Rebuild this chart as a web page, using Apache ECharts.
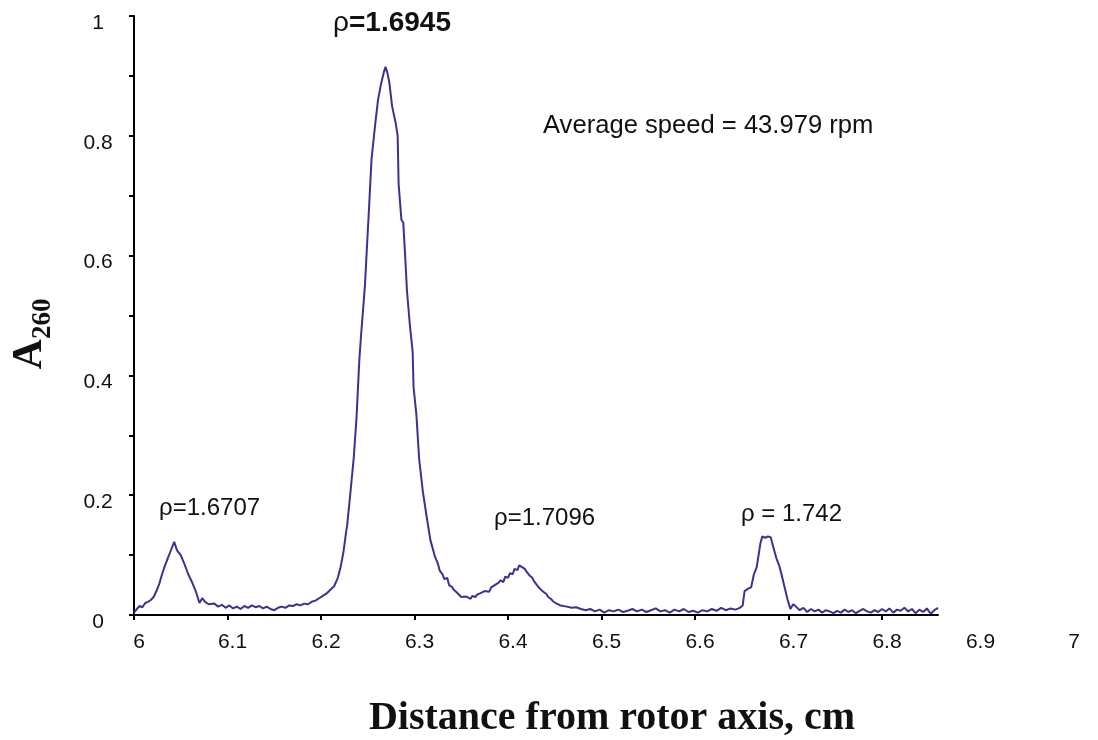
<!DOCTYPE html>
<html><head><meta charset="utf-8">
<script src="https://cdn.jsdelivr.net/npm/echarts@6/dist/echarts.min.js"></script>
<style>html,body{margin:0;padding:0;background:#fff}#c{width:1098px;height:740px}</style>
</head><body><div id="c"></div>
<script>
// Distance from rotor axis (cm)
const distance = [
6.000,6.003,6.006,6.009,6.012,6.015,6.018,6.021,6.024,6.027,6.030,6.033,6.036,6.039,6.043,6.046,6.050,6.054,6.058,6.062,6.066,6.070,6.073,6.076,6.080,
6.082,6.086,6.090,6.094,6.098,6.102,6.106,6.110,6.114,6.118,6.122,6.126,6.130,6.134,6.138,6.142,6.146,6.150,6.154,6.158,6.162,6.166,6.170,6.174,6.178,6.182,6.186,6.190,6.194,6.198,
6.202,6.206,6.210,6.214,6.218,6.221,6.224,6.227,6.228,6.231,6.235,6.238,6.241,6.243,6.247,6.250,6.251,6.254,6.256,6.258,6.261,6.264,6.267,6.269,6.271,6.273,6.276,6.280,6.282,6.283,6.286,6.288,6.290,6.292,6.295,6.298,6.299,6.302,6.305,6.309,6.313,6.317,6.322,6.325,6.327,6.330,6.332,6.335,6.337,6.340,6.342,6.345,6.347,6.350,6.352,6.355,6.357,6.360,6.362,6.365,6.367,6.370,6.372,6.375,6.377,6.380,6.382,6.385,6.387,6.390,6.392,6.395,6.397,6.400,6.402,6.405,6.407,6.410,6.412,6.415,6.418,6.420,6.423,6.426,6.428,6.431,6.433,6.436,6.438,6.441,6.443,6.446,6.448,6.451,6.453,6.456,6.458,6.463,
6.468,6.473,6.478,6.483,6.488,6.493,6.498,6.503,6.508,6.513,6.518,6.523,6.528,6.533,6.538,6.543,6.548,6.553,6.558,6.563,6.568,6.573,6.578,6.583,6.588,6.593,6.598,6.603,6.608,6.613,6.618,6.623,6.628,6.633,6.638,6.643,
6.648,6.651,6.653,6.657,6.660,6.663,6.666,6.668,6.670,6.672,6.675,6.678,6.681,6.684,6.687,6.690,6.693,6.696,6.699,6.702,6.705,6.708,
6.712,6.716,6.720,6.724,6.728,6.732,6.736,6.740,6.744,6.748,6.752,6.756,6.760,6.764,6.768,6.772,6.776,6.780,6.784,6.788,6.792,6.796,6.800,6.804,6.808,6.812,6.816,6.820,6.824,6.828,6.832,6.836,6.840,6.844,6.848,6.852,6.856,6.860
];
// A260 absorbance
const a260 = [
0.004,0.010,0.015,0.013,0.020,0.022,0.025,0.030,0.040,0.052,0.068,0.082,0.094,0.106,0.122,0.108,0.100,0.085,0.068,0.055,0.040,0.020,0.028,0.022,0.018,
0.016,0.019,0.014,0.017,0.012,0.016,0.011,0.014,0.010,0.015,0.012,0.016,0.013,0.015,0.011,0.014,0.010,0.008,0.012,0.014,0.012,0.016,0.015,0.018,0.016,0.019,0.018,0.022,0.024,0.028,
0.032,0.036,0.042,0.048,0.062,0.080,0.105,0.140,0.150,0.197,0.262,0.330,0.426,0.470,0.550,0.640,0.668,0.760,0.762,0.820,0.860,0.885,0.905,0.915,0.905,0.890,0.850,0.820,0.800,0.720,0.660,0.655,0.600,0.540,0.485,0.440,0.380,0.335,0.260,0.205,0.164,0.125,0.097,0.086,0.074,0.068,0.060,0.062,0.050,0.047,0.042,0.038,0.035,0.030,0.028,0.031,0.030,0.027,0.032,0.030,0.034,0.036,0.037,0.040,0.042,0.039,0.046,0.049,0.050,0.054,0.058,0.055,0.064,0.062,0.070,0.068,0.077,0.075,0.083,0.080,0.077,0.072,0.066,0.062,0.056,0.050,0.046,0.041,0.038,0.035,0.030,0.027,0.023,0.020,0.018,0.016,0.015,0.014,
0.012,0.013,0.010,0.008,0.010,0.006,0.009,0.004,0.008,0.006,0.009,0.005,0.007,0.010,0.006,0.009,0.005,0.008,0.011,0.006,0.008,0.004,0.009,0.006,0.010,0.005,0.007,0.004,0.008,0.006,0.010,0.007,0.012,0.008,0.011,0.009,
0.012,0.016,0.040,0.044,0.046,0.068,0.080,0.100,0.120,0.131,0.129,0.131,0.130,0.112,0.095,0.083,0.065,0.045,0.026,0.010,0.018,0.014,
0.008,0.012,0.005,0.010,0.006,0.009,0.004,0.008,0.006,0.003,0.007,0.004,0.009,0.005,0.008,0.003,0.007,0.010,0.006,0.004,0.008,0.005,0.010,0.006,0.011,0.004,0.009,0.007,0.012,0.006,0.010,0.003,0.009,0.005,0.011,0.002,0.008,0.012
];
const xTickValues = [6, 6.1, 6.2, 6.3, 6.4, 6.5, 6.6, 6.7, 6.8];
const xLabelValues = [6, 6.1, 6.2, 6.3, 6.4, 6.5, 6.6, 6.7, 6.8, 6.9, 7];
const yTickValues = [0, 0.1, 0.2, 0.3, 0.4, 0.5, 0.6, 0.7, 0.8, 0.9, 1];
const yLabelValues = [0, 0.2, 0.4, 0.6, 0.8, 1];
const peakLabels = ['ρ=1.6707', 'ρ=1.7096', 'ρ = 1.742'];
const mainPeakDensity = '1.6945';
const speedText = 'Average speed = 43.979 rpm';
const xTitle = 'Distance from rotor axis, cm';

const chart = echarts.init(document.getElementById('c'), null, {renderer: 'canvas'});
const sans = 'Liberation Sans, Arial, sans-serif';
const serif = 'Liberation Serif, Times New Roman, serif';
const axisStyle = {color: '#000', width: 2};
chart.setOption({
  animation: false,
  backgroundColor: '#fff',
  grid: [
    {left: 134, right: 29, top: 16, bottom: 125},
    {left: 134, width: 804, top: 16, bottom: 125}
  ],
  xAxis: [
    {gridIndex: 0, type: 'value', min: 6, max: 7,
     axisLine: {show: false}, axisTick: {show: false}, splitLine: {show: false},
     axisLabel: {customValues: xLabelValues, fontSize: 21, fontFamily: sans, color: '#111', margin: 17, padding: [0, 0, 0, 10]}},
    {gridIndex: 1, type: 'value', min: 6, max: 6.86,
     axisLine: {show: true, onZero: false, lineStyle: axisStyle},
     axisTick: {show: true, customValues: xTickValues, length: 5, lineStyle: axisStyle},
     axisLabel: {show: false}, splitLine: {show: false}}
  ],
  yAxis: [
    {gridIndex: 0, type: 'value', min: 0, max: 1,
     axisLine: {show: true, lineStyle: axisStyle},
     axisTick: {show: true, customValues: yTickValues, length: 5, lineStyle: axisStyle},
     axisLabel: {customValues: yLabelValues, fontSize: 21, fontFamily: sans, color: '#111', align: 'center', verticalAlign: 'top', lineHeight: 14, margin: 36},
     splitLine: {show: false}},
    {gridIndex: 1, type: 'value', min: 0, max: 1, show: false}
  ],
  series: [{
    type: 'line', xAxisIndex: 0, yAxisIndex: 0,
    data: distance.map((d, i) => [d, a260[i]]),
    symbol: 'none', showSymbol: false, z: 5,
    lineStyle: {color: '#3b3291', width: 2}
  }],
  graphic: [
    {type: 'text', x: 392, y: 23, z: 10, style: {
      text: '{r|ρ}{b|=' + mainPeakDensity + '}', align: 'center', verticalAlign: 'middle',
      rich: {r: {fontSize: 28, fontFamily: sans, fill: '#111'}, b: {fontSize: 28, fontWeight: 'bold', fontFamily: sans, fill: '#111'}}}},
    {type: 'text', x: 543, y: 126, z: 10, style: {text: speedText, fontSize: 25.6, fontFamily: sans, fill: '#111', align: 'left', verticalAlign: 'middle'}},
    {type: 'text', x: 159, y: 508, z: 10, style: {text: peakLabels[0], fontSize: 24, fontFamily: sans, fill: '#111', align: 'left', verticalAlign: 'middle'}},
    {type: 'text', x: 494, y: 518, z: 10, style: {text: peakLabels[1], fontSize: 24, fontFamily: sans, fill: '#111', align: 'left', verticalAlign: 'middle'}},
    {type: 'text', x: 741, y: 514, z: 10, style: {text: peakLabels[2], fontSize: 24, fontFamily: sans, fill: '#111', align: 'left', verticalAlign: 'middle'}},
    {type: 'text', x: 612, y: 719, z: 10, style: {text: xTitle, fontSize: 40, fontWeight: 'bold', fontFamily: serif, fill: '#111', align: 'center', verticalAlign: 'middle'}},
    {type: 'text', x: 33, y: 334, rotation: Math.PI / 2, z: 10, style: {
      text: '{a|A}{s|260}', align: 'center', verticalAlign: 'middle',
      rich: {
        a: {fontSize: 42, fontWeight: 'bold', fontFamily: serif, fill: '#111', verticalAlign: 'top', padding: [0, 0, 5, 0]},
        s: {fontSize: 27, fontWeight: 'bold', fontFamily: serif, fill: '#111', verticalAlign: 'bottom'}
      }}}
  ]
});
</script></body></html>
